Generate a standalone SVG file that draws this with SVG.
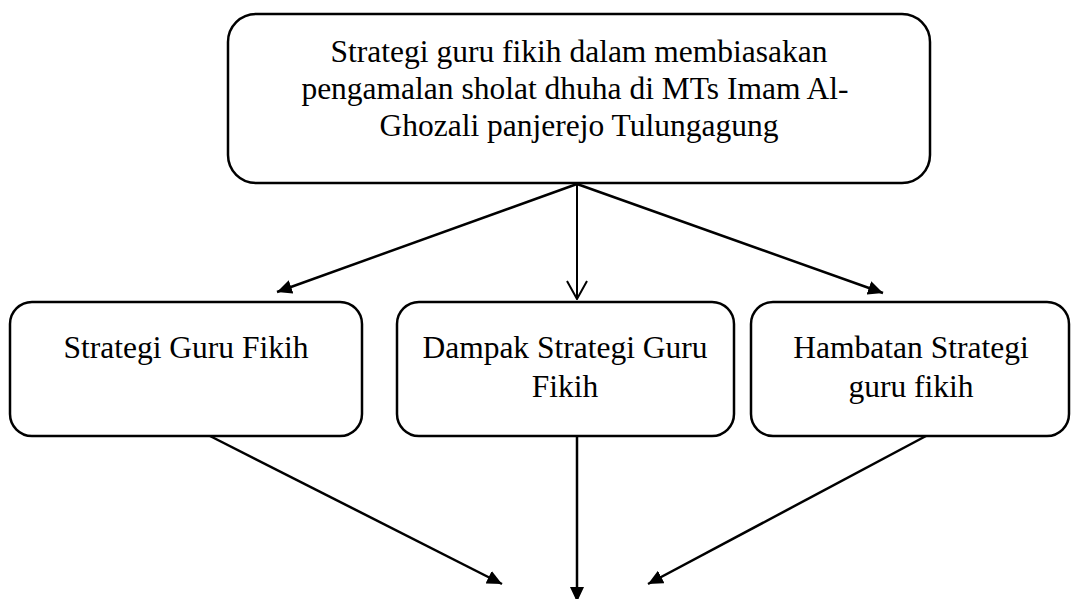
<svg xmlns="http://www.w3.org/2000/svg" width="1072" height="599" viewBox="0 0 1072 599">
<style>
.box{fill:#fff;stroke:#000;stroke-width:2.5}
.t{font-family:"Liberation Serif","Times New Roman",serif;font-size:31.5px;fill:#000;text-anchor:middle}
.c{stroke:#000;stroke-width:2.5;fill:none}
</style>
<defs>
<marker id="ah" viewBox="0 0 15 14" refX="15" refY="7" markerWidth="15" markerHeight="14" markerUnits="userSpaceOnUse" orient="auto">
<path d="M0,0 L15,7 L0,14 z" fill="#000"/>
</marker>
<marker id="av" viewBox="0 0 20 22" refX="19" refY="11" markerWidth="20" markerHeight="22" markerUnits="userSpaceOnUse" orient="auto">
<path d="M1,1 L19,11 L1,21" fill="none" stroke="#000" stroke-width="2"/>
</marker>
</defs>
<g id="connectors">
<line class="c" x1="577" y1="184" x2="277" y2="292" marker-end="url(#ah)"/>
<line x1="577" y1="184" x2="577" y2="299" stroke="#000" stroke-width="2" marker-end="url(#av)"/>
<line class="c" x1="577" y1="184" x2="883" y2="293" marker-end="url(#ah)"/>
<line class="c" x1="210" y1="436" x2="502" y2="584" marker-end="url(#ah)"/>
<line class="c" x1="577" y1="437" x2="577" y2="602" marker-end="url(#ah)"/>
<line class="c" x1="926" y1="436" x2="648" y2="584" marker-end="url(#ah)"/>
</g>
<g id="top">
<rect class="box" x="228" y="14" width="702" height="169" rx="28"/>
<text class="t" x="579" y="62">Strategi guru fikih dalam membiasakan</text>
<text class="t" x="575" y="98.5">pengamalan sholat dhuha di MTs Imam Al-</text>
<text class="t" x="579" y="136">Ghozali panjerejo Tulungagung</text>
</g>
<g id="strategi">
<rect class="box" x="10" y="302" width="352" height="134" rx="22"/>
<text class="t" x="186" y="358">Strategi Guru Fikih</text>
</g>
<g id="dampak">
<rect class="box" x="397" y="302" width="337" height="134" rx="22"/>
<text class="t" x="565" y="358">Dampak Strategi Guru</text>
<text class="t" x="565" y="397">Fikih</text>
</g>
<g id="hambatan">
<rect class="box" x="751" y="302" width="318" height="134" rx="22"/>
<text class="t" x="911" y="358">Hambatan Strategi</text>
<text class="t" x="911" y="397">guru fikih</text>
</g>
</svg>
